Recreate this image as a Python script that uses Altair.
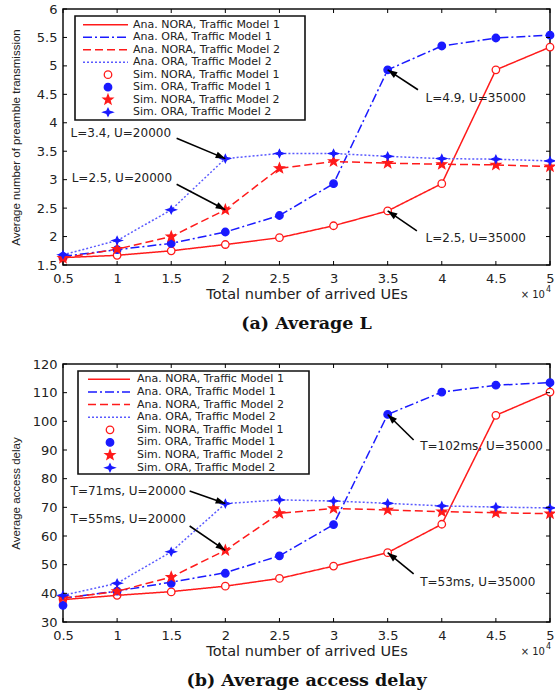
import math
import altair as alt
import pandas as pd

# ---------------- data ----------------
x_vals = [0.5, 1, 1.5, 2, 2.5, 3, 3.5, 4, 4.5, 5]

series_ana = ["Ana. NORA, Traffic Model 1", "Ana. ORA, Traffic Model 1",
              "Ana. NORA, Traffic Model 2", "Ana. ORA, Traffic Model 2"]
series_sim = ["Sim. NORA, Traffic Model 1", "Sim. ORA, Traffic Model 1",
              "Sim. NORA, Traffic Model 2", "Sim. ORA, Traffic Model 2"]

# (a) Average number of preamble transmission
a_ana_nora_tm1 = [1.63, 1.67, 1.75, 1.86, 1.98, 2.19, 2.45, 2.93, 4.93, 5.33]
a_ana_ora_tm1 = [1.65, 1.77, 1.88, 2.08, 2.37, 2.93, 4.93, 5.35, 5.49, 5.54]
a_ana_nora_tm2 = [1.62, 1.78, 2.00, 2.47, 3.20, 3.32, 3.29, 3.27, 3.26, 3.23]
a_ana_ora_tm2 = [1.68, 1.93, 2.47, 3.37, 3.46, 3.46, 3.41, 3.37, 3.36, 3.33]
a_sim_nora_tm1 = [1.62, 1.67, 1.75, 1.86, 1.98, 2.19, 2.45, 2.93, 4.93, 5.33]
a_sim_ora_tm1 = [1.65, 1.77, 1.88, 2.08, 2.37, 2.93, 4.93, 5.35, 5.49, 5.54]
a_sim_nora_tm2 = [1.62, 1.78, 2.00, 2.47, 3.20, 3.32, 3.29, 3.27, 3.26, 3.23]
a_sim_ora_tm2 = [1.68, 1.93, 2.47, 3.37, 3.46, 3.46, 3.41, 3.37, 3.36, 3.33]
a_y_ticks = [1.5, 2, 2.5, 3, 3.5, 4, 4.5, 5, 5.5, 6]

# (b) Average access delay
b_ana_nora_tm1 = [37.8, 39.3, 40.6, 42.5, 45.2, 49.5, 54.2, 64.1, 102.1, 110.2]
b_ana_ora_tm1 = [38.3, 40.8, 43.9, 47.2, 53.1, 64.0, 102.4, 110.2, 112.6, 113.5]
b_ana_nora_tm2 = [38.3, 40.7, 45.7, 55.0, 67.9, 69.6, 69.1, 68.5, 68.1, 67.8]
b_ana_ora_tm2 = [39.3, 43.5, 54.5, 71.3, 72.6, 72.2, 71.4, 70.5, 70.1, 69.8]
b_sim_nora_tm1 = [38.0, 39.3, 40.5, 42.5, 45.2, 49.5, 54.2, 64.1, 102.1, 110.2]
b_sim_ora_tm1 = [35.8, 40.8, 43.5, 47.0, 53.1, 64.0, 102.4, 110.2, 112.6, 113.5]
b_sim_nora_tm2 = [38.5, 40.7, 45.7, 55.0, 67.9, 69.6, 69.1, 68.5, 68.1, 67.8]
b_sim_ora_tm2 = [39.3, 43.5, 54.5, 71.3, 72.6, 72.2, 71.4, 70.5, 70.1, 69.8]
b_y_ticks = [30, 40, 50, 60, 70, 80, 90, 100, 110, 120]

# annotations: label, text x, text y, arrow tail x, tail y, arrow head x, head y
a_annot_labels = ["L=3.4, U=20000", "L=2.5, U=20000", "L=4.9, U=35000", "L=2.5, U=35000"]
a_annot_tx = [0.57, 0.58, 3.85, 3.85]
a_annot_ty = [3.82, 3.03, 4.44, 1.98]
a_annot_x0 = [1.55, 1.55, 3.78, 3.77]
a_annot_y0 = [3.73, 2.92, 4.58, 2.10]
a_annot_x1 = [2.0, 2.0, 3.5, 3.5]
a_annot_y1 = [3.37, 2.47, 4.93, 2.45]

b_annot_labels = ["T=71ms, U=20000", "T=55ms, U=20000", "T=102ms, U=35000", "T=53ms, U=35000"]
b_annot_tx = [0.57, 0.57, 3.80, 3.80]
b_annot_ty = [75.7, 65.9, 91.4, 44.0]
b_annot_x0 = [1.67, 1.67, 3.74, 3.74]
b_annot_y0 = [75.7, 63.5, 93.5, 46.8]
b_annot_x1 = [2.0, 2.0, 3.5, 3.5]
b_annot_y1 = [71.3, 55.0, 102.4, 54.2]

# ---------------- styles ----------------
RED = "#ff1a1a"
BLUE = "#1a1aff"
LBLUE = "#5a5aff"
ana_colors = [RED, BLUE, RED, LBLUE]
ana_dashes = [[1, 0], [9, 3, 2, 3], [8, 4], [2, 2]]


def star_path(n, ro, ri):
    pts = []
    for k in range(2 * n):
        r = ro if k % 2 == 0 else ri
        ang = math.radians(-90 + k * 180.0 / n)
        pts.append((r * math.cos(ang), r * math.sin(ang)))
    return "M" + "L".join(f"{px:.3f},{py:.3f}" for px, py in pts) + "Z"


CIRCLE = "M-0.75,0A0.75,0.75 0 1,0 0.75,0A0.75,0.75 0 1,0 -0.75,0Z"
STAR5 = star_path(5, 1.0, 0.42)
STAR4 = "M0,-0.75L0.24,-0.24L0.95,0L0.24,0.24L0,0.75L-0.24,0.24L-0.95,0L-0.24,-0.24Z"
sim_shapes = [CIRCLE, CIRCLE, STAR5, STAR4]
sim_fills = ["white", BLUE, RED, BLUE]
sim_strokes = [RED, BLUE, RED, BLUE]
ARROW = "M0,0L0.6,1.7L-0.6,1.7Z"

SANS = "DejaVu Sans"
W = 487


def long_df(names, arrays):
    rows = []
    for name, arr in zip(names, arrays):
        for xv, yv in zip(x_vals, arr):
            rows.append({"series": name, "x": xv, "y": yv})
    return pd.DataFrame(rows)


def make_panel(ana_arrays, sim_arrays, ydom, yticks, yfmt, ytitle, caption, annot, H, leg):
    xscale = alt.Scale(domain=[0.5, 5], nice=False, zero=False)
    yscale = alt.Scale(domain=ydom, nice=False, zero=False)
    xaxis = alt.Axis(values=x_vals, format="~g", title="Total number of arrived UEs",
                     ticks=False, domain=False, grid=False, labelPadding=7, titlePadding=2,
                     labelFont=SANS, labelFontSize=13, labelColor="#222",
                     titleFont=SANS, titleFontSize=14.5, titleFontWeight="normal", titleColor="#222",
                     labelFlush=False)
    yaxis = alt.Axis(values=yticks, format=yfmt, title=ytitle, ticks=False, domain=False,
                     grid=False, labelPadding=6, labelFont=SANS, labelFontSize=13,
                     labelColor="#222", titleFont="Liberation Sans", titleFontSize=11.5,
                     titleFontWeight="normal", titleColor="#222", titleX=-42, labelFlush=False)

    def X(f):
        return alt.X(f + ":Q", scale=xscale, axis=xaxis)

    def Y(f, axis=False):
        return alt.Y(f + ":Q", scale=yscale, axis=yaxis if axis else None)

    df_ana = long_df(series_ana, ana_arrays)
    df_sim = long_df(series_sim, sim_arrays)

    color_enc = alt.Color("series:N", scale=alt.Scale(domain=series_ana, range=ana_colors), legend=None)
    dash_enc = alt.StrokeDash("series:N", scale=alt.Scale(domain=series_ana, range=ana_dashes), legend=None)
    shape_enc = alt.Shape("series:N", scale=alt.Scale(domain=series_sim, range=sim_shapes), legend=None)
    fill_enc = alt.Fill("series:N", scale=alt.Scale(domain=series_sim, range=sim_fills), legend=None)
    stroke_enc = alt.Stroke("series:N", scale=alt.Scale(domain=series_sim, range=sim_strokes), legend=None)

    lines = alt.Chart(df_ana).mark_line(strokeWidth=1.5).encode(
        x=X("x"), y=Y("y", True), color=color_enc, strokeDash=dash_enc, order="x:Q")
    points = alt.Chart(df_sim).mark_point(filled=True, size=100, opacity=1, strokeWidth=1.3).encode(
        x=X("x"), y=Y("y"), shape=shape_enc, fill=fill_enc, stroke=stroke_enc)

    # inward ticks on all four sides
    df_xt = pd.DataFrame({"t": x_vals})
    df_yt = pd.DataFrame({"t": yticks})
    tk = dict(color="black", strokeWidth=1)
    xt_bot = alt.Chart(df_xt).mark_rule(**tk).encode(x=X("t"), y=alt.value(H), y2=alt.value(H - 4))
    xt_top = alt.Chart(df_xt).mark_rule(**tk).encode(x=X("t"), y=alt.value(0), y2=alt.value(4))
    yt_l = alt.Chart(df_yt).mark_rule(**tk).encode(y=Y("t"), x=alt.value(0), x2=alt.value(4))
    yt_r = alt.Chart(df_yt).mark_rule(**tk).encode(y=Y("t"), x=alt.value(W), x2=alt.value(W - 4))

    # annotations
    labels, tx, ty, x0, y0, x1, y1 = annot
    sx = W / 4.5
    sy = H / (ydom[1] - ydom[0])
    angs = []
    for a0, b0, a1, b1 in zip(x0, y0, x1, y1):
        dxp = (a1 - a0) * sx
        dyp = -(b1 - b0) * sy
        angs.append(math.degrees(math.atan2(dxp, -dyp)) % 360)
    df_an = pd.DataFrame({"label": labels, "tx": tx, "ty": ty, "x0": x0, "y0": y0,
                          "x1": x1, "y1": y1, "ang": angs})
    ann_text = alt.Chart(df_an).mark_text(align="left", baseline="middle", font=SANS,
                                          fontSize=12, color="#222").encode(
        x=X("tx"), y=Y("ty"), text="label:N")
    ann_line = alt.Chart(df_an).mark_rule(color="black", strokeWidth=1.6).encode(
        x=X("x0"), y=Y("y0"), x2="x1:Q", y2="y1:Q")
    ann_head = alt.Chart(df_an).mark_point(shape=ARROW, filled=True, color="black", size=130,
                                           opacity=1).encode(
        x=X("x1"), y=Y("y1"), angle=alt.Angle("ang:Q", scale=None))

    # legend (drawn in panel pixel space)
    bx0, bx1, by0, by1, ry0, ry7, lx0, lx1, mx, tx_ = leg
    rows = list(range(8))
    df_leg = pd.DataFrame({"row": rows, "label": series_ana + series_sim})
    df_leg_ana = pd.DataFrame({"row": rows[:4], "series": series_ana})
    df_leg_sim = pd.DataFrame({"row": rows[4:], "series": series_sim})
    ly = alt.Y("row:Q", scale=alt.Scale(domain=[0, 7], range=[ry0, ry7]), axis=None)
    leg_box = alt.Chart(pd.DataFrame({"k": [0]})).mark_rect(
        fill="white", stroke="#111", strokeWidth=1.6).encode(
        x=alt.value(bx0), x2=alt.value(bx1), y=alt.value(by0), y2=alt.value(by1))
    leg_lines = alt.Chart(df_leg_ana).mark_rule(strokeWidth=1.5).encode(
        x=alt.value(lx0), x2=alt.value(lx1), y=ly, color=color_enc, strokeDash=dash_enc)
    leg_pts = alt.Chart(df_leg_sim).mark_point(filled=True, size=100, opacity=1, strokeWidth=1.3).encode(
        x=alt.value(mx), y=ly, shape=shape_enc, fill=fill_enc, stroke=stroke_enc)
    leg_text = alt.Chart(df_leg).mark_text(align="left", baseline="middle", font=SANS,
                                           fontSize=11, color="#222").encode(
        x=alt.value(tx_), y=ly, text="label:N")

    # x10^4 multiplier
    dummy = pd.DataFrame({"k": [0]})
    mult = alt.Chart(dummy).mark_text(align="right", baseline="middle", font=SANS,
                                      fontSize=10, color="#222").encode(
        x=alt.value(W - 5), y=alt.value(H + 30), text=alt.value("\u00d7 10"))
    mult4 = alt.Chart(dummy).mark_text(align="left", baseline="middle", font=SANS,
                                       fontSize=8, color="#222").encode(
        x=alt.value(W - 4), y=alt.value(H + 25), text=alt.value("4"))

    layer = alt.layer(
        lines, points, xt_bot, xt_top, yt_l, yt_r,
        ann_line, ann_head, ann_text,
        leg_box, leg_lines, leg_pts, leg_text, mult, mult4
    ).resolve_scale(y="independent").properties(
        width=W, height=H,
        title=alt.TitleParams(caption, orient="bottom", font="DejaVu Serif", fontSize=17.5,
                              fontWeight="bold", color="#111", offset=14, anchor="middle"))
    return layer


panel_a = make_panel(
    [a_ana_nora_tm1, a_ana_ora_tm1, a_ana_nora_tm2, a_ana_ora_tm2],
    [a_sim_nora_tm1, a_sim_ora_tm1, a_sim_nora_tm2, a_sim_ora_tm2],
    [1.5, 6], a_y_ticks, "~g", "Average number of preamble transmission", "(a)  Average L",
    (a_annot_labels, a_annot_tx, a_annot_ty, a_annot_x0, a_annot_y0, a_annot_x1, a_annot_y1),
    256, (12, 242, 7, 111, 15.7, 103.2, 20, 65, 45, 70))

panel_b = make_panel(
    [b_ana_nora_tm1, b_ana_ora_tm1, b_ana_nora_tm2, b_ana_ora_tm2],
    [b_sim_nora_tm1, b_sim_ora_tm1, b_sim_nora_tm2, b_sim_ora_tm2],
    [30, 120], b_y_ticks, "d", "Average access delay", "(b)  Average access delay",
    (b_annot_labels, b_annot_tx, b_annot_ty, b_annot_x0, b_annot_y0, b_annot_x1, b_annot_y1),
    258, (15, 246, 7, 110, 15.3, 103.7, 25, 67, 47, 74))

chart = alt.vconcat(panel_a, panel_b, spacing=24).properties(
    padding={"left": 9, "top": 2, "right": -4, "bottom": 0},
    background="white",
).configure_view(stroke="#111", strokeWidth=1.5)

chart.save("out.html", embed_options={"renderer": "svg", "actions": False})
